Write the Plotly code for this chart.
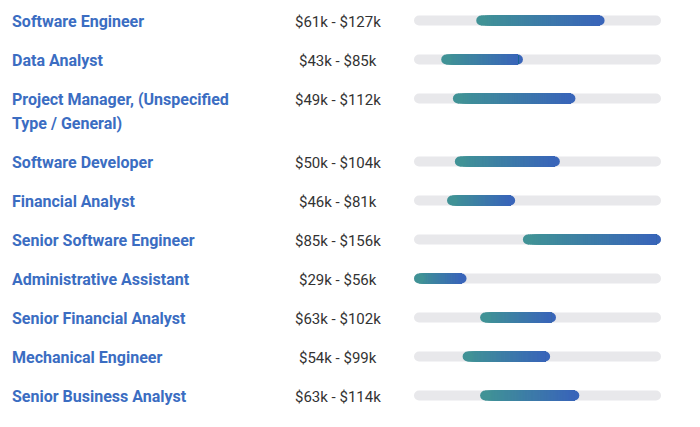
import plotly.graph_objects as go
import numpy as np

titles = ["Software Engineer", "Data Analyst", "Project Manager, (Unspecified<br>Type / General)",
          "Software Developer", "Financial Analyst", "Senior Software Engineer",
          "Administrative Assistant", "Senior Financial Analyst", "Mechanical Engineer",
          "Senior Business Analyst"]
sal_min = [61, 43, 49, 50, 46, 85, 29, 63, 54, 63]
sal_max = [127, 85, 112, 104, 81, 156, 56, 102, 99, 114]
range_labels = [f"${a}k - ${b}k" for a, b in zip(sal_min, sal_max)]

WIN_W, WIN_H = 700, 427
OFF = 8  # page body margin
W, H = WIN_W - OFF, WIN_H - OFF

# row layout (window pixel units on y axis)
row_y = []
y = 20.5
for t in titles:
    row_y.append(y)
    y += 39 + 24 * t.count("<br>")

lo, hi = min(sal_min), max(sal_max)
px0, px1 = 414, 661
k = (px1 - px0) / (hi - lo)
xr = [lo - (px0 - OFF) / k, lo + (WIN_W - px0) / k]

c0 = np.array([0x40, 0x92, 0x96])
c1 = np.array([0x39, 0x65, 0xb9])
def col(t):
    c = c0 + (c1 - c0) * t
    return "rgb(%d,%d,%d)" % tuple(c.round())

fig = go.Figure()
bh = 10
r_units = (bh / 2) / k
fig.add_trace(go.Bar(orientation="h", y=row_y, base=[lo] * len(row_y), x=[hi - lo] * len(row_y),
                     width=bh, marker=dict(color="#e8e8eb", cornerradius=bh / 2, line_width=0),
                     hoverinfo="skip", showlegend=False))
for yy, a, b in zip(row_y, sal_min, sal_max):
    fig.add_trace(go.Bar(orientation="h", y=[yy], base=[b - 2 * r_units - 0.3], x=[2 * r_units + 0.3], width=bh,
                         marker=dict(color=col(1), cornerradius=bh / 2, line_width=0),
                         hoverinfo="skip", showlegend=False))
    n = 60
    edges = np.linspace(a + r_units, b - r_units, n + 1)[:-1]
    ts = np.linspace(0, 1, n)
    end = b - r_units + 0.05
    fig.add_trace(go.Bar(orientation="h", y=[yy] * n, base=edges, x=end - edges, width=bh,
                         marker=dict(color=[col(t) for t in ts], line_width=0),
                         hoverinfo="skip", showlegend=False))
    fig.add_trace(go.Bar(orientation="h", y=[yy], base=[a], x=[2 * r_units + 0.3], width=bh,
                         marker=dict(color=col(0), cornerradius=bh / 2, line_width=0),
                         hoverinfo="skip", showlegend=False))

def px(xw):
    return (xw - OFF) / W

for yy, t, lab in zip(row_y, titles, range_labels):
    for i, line in enumerate(t.split("<br>")):
        fig.add_annotation(x=px(10), xref="paper", y=yy + 1 + 24 * i, yref="y", text=line,
                           showarrow=False, xanchor="left", yanchor="middle",
                           font=dict(family="Roboto", size=16, color="#3b6dc2", weight="bold"))
    fig.add_annotation(x=px(338), xref="paper", y=yy + 1, yref="y", text=lab, showarrow=False,
                       xanchor="center", yanchor="middle",
                       font=dict(family="Roboto", size=15, color="#333333"))

fig.update_layout(width=W, height=H, margin=dict(l=0, r=0, t=0, b=0),
                  paper_bgcolor="white", plot_bgcolor="white", barmode="overlay",
                  xaxis=dict(range=xr, visible=False, fixedrange=True),
                  yaxis=dict(range=[WIN_H, OFF], visible=False, fixedrange=True))
fig.write_html("out.html")
